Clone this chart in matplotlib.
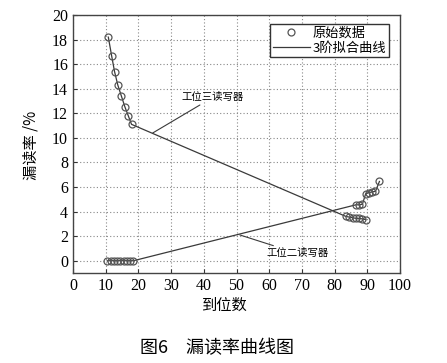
import matplotlib
matplotlib.use("Agg")
import matplotlib.pyplot as plt

plt.rcParams["font.family"] = ["Noto Sans CJK SC", "DejaVu Sans"]

# 工位三读写器
S3_X = [10.8, 11.8, 12.7, 13.7, 14.8, 15.9, 16.9, 17.9,
        83.5, 84.5, 85.5, 86.5, 87.5, 88.5, 89.5]
S3_Y = [18.2, 16.7, 15.4, 14.3, 13.4, 12.5, 11.8, 11.1,
        3.6, 3.55, 3.5, 3.45, 3.45, 3.4, 3.35]

# 工位二读写器
S2_X = [10.5, 11.5, 12.5, 13.5, 14.5, 15.5, 16.5, 17.5, 18.5,
        86.5, 87.5, 88.5, 89.5, 90.5, 91.5, 92.5, 93.7]
S2_Y = [0, 0, 0, 0, 0, 0, 0, 0, 0,
        4.55, 4.55, 4.6, 5.45, 5.55, 5.6, 5.65, 6.45]

X_TICKS = list(range(0, 101, 10))
Y_TICKS = list(range(0, 21, 2))

LINE_COLOR = "#3a3a3a"
MARK_COLOR = "#555555"

fig = plt.figure(figsize=(4.47, 3.63), dpi=100)
ax = fig.add_axes([0.1633, 0.2479, 0.7316, 0.7108])

for xs, ys in [(S3_X, S3_Y), (S2_X, S2_Y)]:
    ax.plot(xs, ys, "o", ms=5, mfc="none", mec=MARK_COLOR, mew=0.9,
            label="原始数据" if xs is S3_X else None, zorder=3)
    ax.plot(xs, ys, "-", color=LINE_COLOR, lw=0.9,
            label="3阶拟合曲线" if xs is S3_X else None, zorder=2)

ax.set_xlim(0, 100)
ax.set_ylim(-1, 20)
ax.set_xticks(X_TICKS)
ax.set_yticks(Y_TICKS)
ax.grid(True, linestyle=(0, (1, 2)), color="#888888", lw=0.8)
ax.tick_params(direction="in", length=3, color="#333333", labelsize=11.5)
for lbl in ax.get_xticklabels() + ax.get_yticklabels():
    lbl.set_family("Liberation Serif")
for sp in ax.spines.values():
    sp.set_color("#444444")
    sp.set_linewidth(1.0)

ax.annotate("工位三读写器", xy=(24.4, 10.4), xytext=(33.3, 12.9),
            fontsize=7.5, va="bottom", ha="left",
            arrowprops=dict(arrowstyle="-", color=LINE_COLOR, lw=0.8,
                            shrinkA=0, shrinkB=0))
ax.annotate("工位二读写器", xy=(51, 2.1), xytext=(59.2, 1.0),
            fontsize=7.5, va="top", ha="left",
            arrowprops=dict(arrowstyle="-", color=LINE_COLOR, lw=0.8,
                            shrinkA=0, shrinkB=0))

leg = ax.legend(loc="upper right", fontsize=9.5, frameon=True, fancybox=False,
                edgecolor="#333333", framealpha=1, handlelength=2.8,
                borderpad=0.2, labelspacing=0.15, handletextpad=0.2,
                bbox_to_anchor=(0.985, 0.99))
leg.get_frame().set_linewidth(1.0)

fig.text(0.07, 0.6, "漏读率 /%", rotation=90, fontsize=11,
         ha="center", va="center")
fig.text(0.5, 0.16, "到位数", fontsize=11, ha="center", va="center")
fig.text(0.485, 0.04, "图6　漏读率曲线图", fontsize=13, ha="center",
         va="center")

fig.savefig("out.png", dpi=100)
